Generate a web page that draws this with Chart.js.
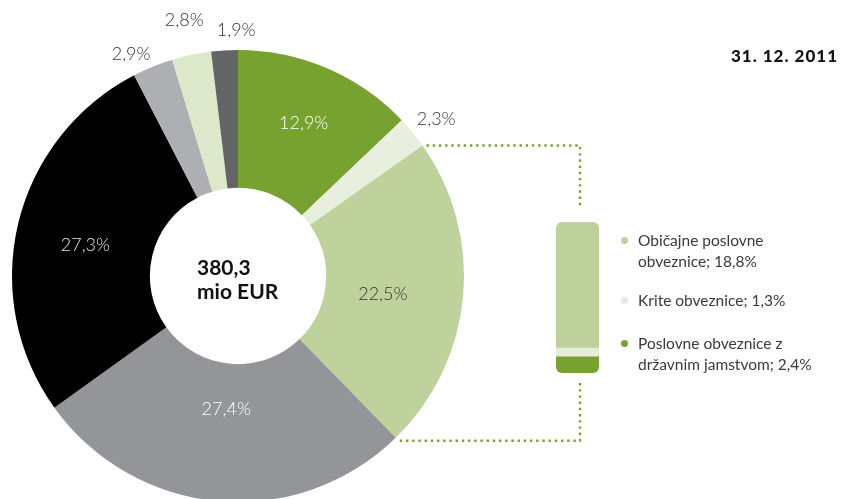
<!DOCTYPE html>
<html>
<head>
<meta charset="utf-8">
<script src="https://cdn.jsdelivr.net/npm/chart.js@4.4.0/dist/chart.umd.min.js"></script>
<style>
  html, body { margin:0; padding:0; width:843px; height:499px; overflow:hidden; background:#fff; font-family: Lato, "Open Sans", sans-serif; }
  #pie { position:absolute; left:0; top:0; }
  #bar { position:absolute; left:556px; top:222px; border-radius:6px; }
  #title { position:absolute; right:5px; top:45px; font: 900 17px Lato, sans-serif; letter-spacing:1px; color:#111; }
  #legend { position:absolute; left:620px; top:230px; width:200px; }
  .item { position:absolute; left:0; width:200px; font-size:15.5px; line-height:21px; color:#3a3a3a; padding-left:18px; box-sizing:border-box; }
  .dot { position:absolute; left:1px; top:7px; width:7px; height:7px; border-radius:50%; }
</style>
</head>
<body>
<canvas id="pie" width="843" height="510"></canvas>
<canvas id="bar" width="43" height="151"></canvas>
<div id="title">31. 12. 2011</div>
<div id="legend"></div>
<script>
// ---- data ----
const sliceLabels = ["Poslovne obveznice z državnim jamstvom", "Krite obveznice", "Običajne poslovne obveznice", "Skupina 4", "Skupina 5", "Skupina 6", "Skupina 7", "Skupina 8"];
const sliceValues = [12.9, 2.3, 22.5, 27.4, 27.3, 2.9, 2.8, 1.9];
const sliceColors = ["#78a22f", "#e9efdf", "#bfd29c", "#939598", "#000000", "#adafb2", "#dde7ca", "#636466"];
const sliceTextColors = ["#ffffff", "#333333", "#333333", "#ffffff", "#e6e6e6", "#333333", "#333333", "#333333"];
const totalValue = "380,3";
const totalUnit = "mio EUR";

const detailLabels = ["Običajne poslovne obveznice", "Krite obveznice", "Poslovne obveznice z državnim jamstvom"];
const detailValues = [18.8, 1.3, 2.4];
const detailColors = ["#bfd19b", "#e5ecd9", "#78a22f"];

const fmt = v => v.toFixed(1).replace('.', ',') + '%';

// ---- layout constants (label placement style, not data) ----
const FONT = 'Lato, "Open Sans", sans-serif';
const CONNECTOR_X = 580;
const BAR_TOP = 222, BAR_BOTTOM = 373;
const GREEN = "#78a22f";
// inside labels: fraction of ring thickness; outside labels: extra px beyond outer radius
const labelRadial = [0.57, 27, 0.42, 0.33, 0.49, 20, 35, 20];
const labelAngleShiftDeg = [0, 1, 2, 0, -2, -3.6, 0, 3];

const labelPlugin = {
  id: 'labels',
  afterDatasetsDraw(chart) {
    const ctx = chart.ctx;
    const meta = chart.getDatasetMeta(0);
    ctx.save();
    ctx.textAlign = 'center';
    ctx.textBaseline = 'middle';
    ctx.font = '300 18px ' + FONT;
    meta.data.forEach((arc, i) => {
      const p = arc.getProps(['x','y','startAngle','endAngle','innerRadius','outerRadius'], true);
      const mid = (p.startAngle + p.endAngle) / 2 + labelAngleShiftDeg[i] * Math.PI / 180;
      const v = sliceValues[i];
      const inside = v >= 10;
      const r = inside ? p.innerRadius + labelRadial[i] * (p.outerRadius - p.innerRadius)
                       : p.outerRadius + labelRadial[i];
      ctx.fillStyle = inside ? sliceTextColors[i] : '#333333';
      ctx.fillText(fmt(v), p.x + Math.cos(mid) * r, p.y + Math.sin(mid) * r);
    });
    // center text
    const c = meta.data[0].getProps(['x','y'], true);
    ctx.textAlign = 'left';
    ctx.fillStyle = '#111111';
    ctx.font = 'bold 21px ' + FONT;
    ctx.fillText(totalValue, c.x - 41, c.y - 8);
    ctx.fillText(totalUnit, c.x - 41, c.y + 16);

    // connectors from slice 2 (Običajne) edges to the detail bar
    const a = meta.data[2].getProps(['x','y','startAngle','endAngle','outerRadius'], true);
    const sx = a.x + Math.cos(a.startAngle) * a.outerRadius;
    const sy = a.y + Math.sin(a.startAngle) * a.outerRadius;
    const ex = a.x + Math.cos(a.endAngle) * a.outerRadius;
    const ey = a.y + Math.sin(a.endAngle) * a.outerRadius;
    ctx.strokeStyle = GREEN;
    ctx.lineWidth = 2.4;
    ctx.setLineDash([2.4, 3.8]);
    ctx.beginPath();
    ctx.moveTo(sx + 4, sy);
    ctx.lineTo(CONNECTOR_X, sy);
    ctx.lineTo(CONNECTOR_X, BAR_TOP - 13);
    ctx.moveTo(ex + 4, ey + 3);
    ctx.lineTo(CONNECTOR_X, ey + 3);
    ctx.lineTo(CONNECTOR_X, BAR_BOTTOM + 9);
    ctx.stroke();
    ctx.restore();
  }
};

new Chart(document.getElementById('pie'), {
  type: 'doughnut',
  data: {
    labels: sliceLabels,
    datasets: [{ data: sliceValues, backgroundColor: sliceColors, borderWidth: 0, hoverOffset: 0 }]
  },
  options: {
    responsive: false,
    animation: false,
    cutout: '39%',
    layout: { padding: { left: 12, top: 50, right: 379, bottom: 8 } },
    plugins: { legend: { display: false }, tooltip: { enabled: false } },
    events: []
  },
  plugins: [labelPlugin]
});

// stacked detail bar: bottom to top = green, pale, light green
const order = [2, 1, 0];
new Chart(document.getElementById('bar'), {
  type: 'bar',
  data: {
    labels: [''],
    datasets: order.map(i => ({
      label: detailLabels[i],
      data: [detailValues[i]],
      backgroundColor: detailColors[i],
      borderWidth: 0,
      borderRadius: 0,
      barPercentage: 1,
      categoryPercentage: 1
    }))
  },
  options: {
    responsive: false,
    animation: false,
    layout: { padding: 0 },
    scales: {
      x: { stacked: true, display: false },
      y: { stacked: true, display: false, min: 0, max: detailValues.reduce((a, b) => a + b, 0) }
    },
    plugins: { legend: { display: false }, tooltip: { enabled: false } },
    events: []
  }
});

// legend
const legend = document.getElementById('legend');
const tops = [0, 60, 103];
detailLabels.forEach((lab, i) => {
  const d = document.createElement('div');
  d.className = 'item';
  d.style.top = tops[i] + 'px';
  d.innerHTML = '<span class="dot" style="background:' + detailColors[i] + '"></span>' + lab + '; ' + fmt(detailValues[i]);
  legend.appendChild(d);
});
</script>
</body>
</html>
